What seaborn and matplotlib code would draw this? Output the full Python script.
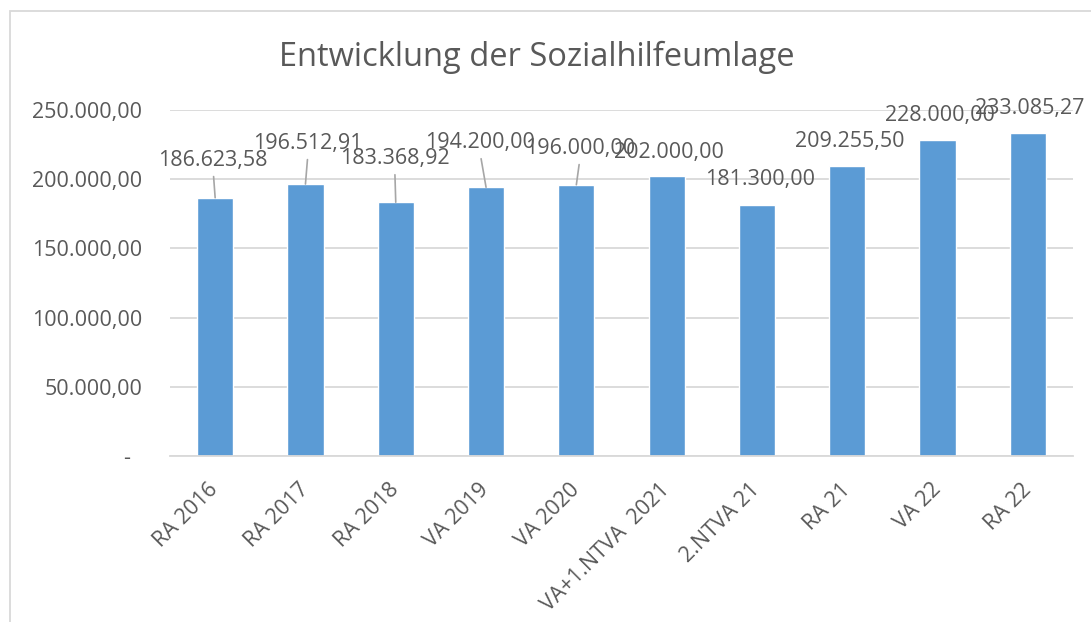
import matplotlib
matplotlib.use("Agg")
import matplotlib.pyplot as plt
import seaborn as sns
from matplotlib.patches import Rectangle
from matplotlib.ticker import FuncFormatter, MultipleLocator

# ---- data ----
categories = ["RA 2016", "RA 2017", "RA 2018", "VA 2019", "VA 2020",
              "VA+1.NTVA  2021", "2.NTVA 21", "RA 21", "VA 22", "RA 22"]
values = [186623.58, 196512.91, 183368.92, 194200.00, 196000.00,
          202000.00, 181300.00, 209255.50, 228000.00, 233085.27]
title = "Entwicklung der Sozialhilfeumlage"

# label placement (pixel offsets of label centre from bar top centre)
label_dx = [-2, 2.5, -1, -6, 3.6, 2.3, 3, 2.7, 2.4, 2]
label_dy = [37.7, 41, 44, 45, 36.7, 24.4, 26, 24.4, 25.4, 25.4]
leader = [True, True, True, True, True, False, False, False, False, False]

BAR = "#5B9BD5"
TXT = "#595959"
GRID = "#D9D9D9"

sns.set_theme(style="white")
plt.rcParams["font.family"] = ["Open Sans", "DejaVu Sans"]


def de_fmt(v, decimals=2):
    s = f"{v:,.{decimals}f}"
    return s.replace(",", "X").replace(".", ",").replace("X", ".")


fig = plt.figure(figsize=(10.91, 6.22), dpi=100)
ax = fig.add_axes([170 / 1091, 1 - 456 / 622, 903 / 1091, 346 / 622])

sns.barplot(x=categories, y=values, color=BAR, saturation=1, width=0.4, ax=ax)

ax.set_ylim(0, 250000)
ax.set_xlim(-0.5, len(categories) - 0.5)
ax.yaxis.set_major_locator(MultipleLocator(50000))
ax.yaxis.set_major_formatter(FuncFormatter(lambda v, p: "-  " if v == 0 else de_fmt(v)))
ax.yaxis.grid(True, color=GRID, lw=1.3)
ax.set_axisbelow(True)
for s in ["left", "right", "top"]:
    ax.spines[s].set_visible(False)
ax.spines["bottom"].set_color(GRID)
ax.spines["bottom"].set_linewidth(1.3)
ax.set_xlabel("")
ax.set_ylabel("")
ax.tick_params(axis="y", length=0, pad=20, labelsize=15.5, labelcolor=TXT)
ax.tick_params(axis="x", length=0, pad=22, labelsize=15.5, labelcolor=TXT)
for lab in ax.get_xticklabels():
    lab.set_rotation(45)
    lab.set_ha("right")
    lab.set_va("center")
    lab.set_rotation_mode("anchor")

for i, v in enumerate(values):
    props = None
    if leader[i]:
        props = dict(arrowstyle="-", color="#A6A6A6", lw=1.2,
                     relpos=(0.5, 0.0), shrinkA=2, shrinkB=0)
    ax.annotate(de_fmt(v), xy=(i, v), xytext=(label_dx[i], label_dy[i]),
                textcoords="offset pixels", ha="center", va="center",
                fontsize=15.5, color=TXT, arrowprops=props)

fig.text(537 / 1091, 1 - 57 / 622, title, ha="center", va="center",
         fontsize=23.5, color=TXT)

fig.patches.append(Rectangle((10 / 1091, -0.1), 1.2, 1 - 11 / 622 + 0.1,
                             transform=fig.transFigure, fill=False,
                             edgecolor=GRID, lw=1.3))

fig.savefig("out.png", dpi=100, facecolor="white")
